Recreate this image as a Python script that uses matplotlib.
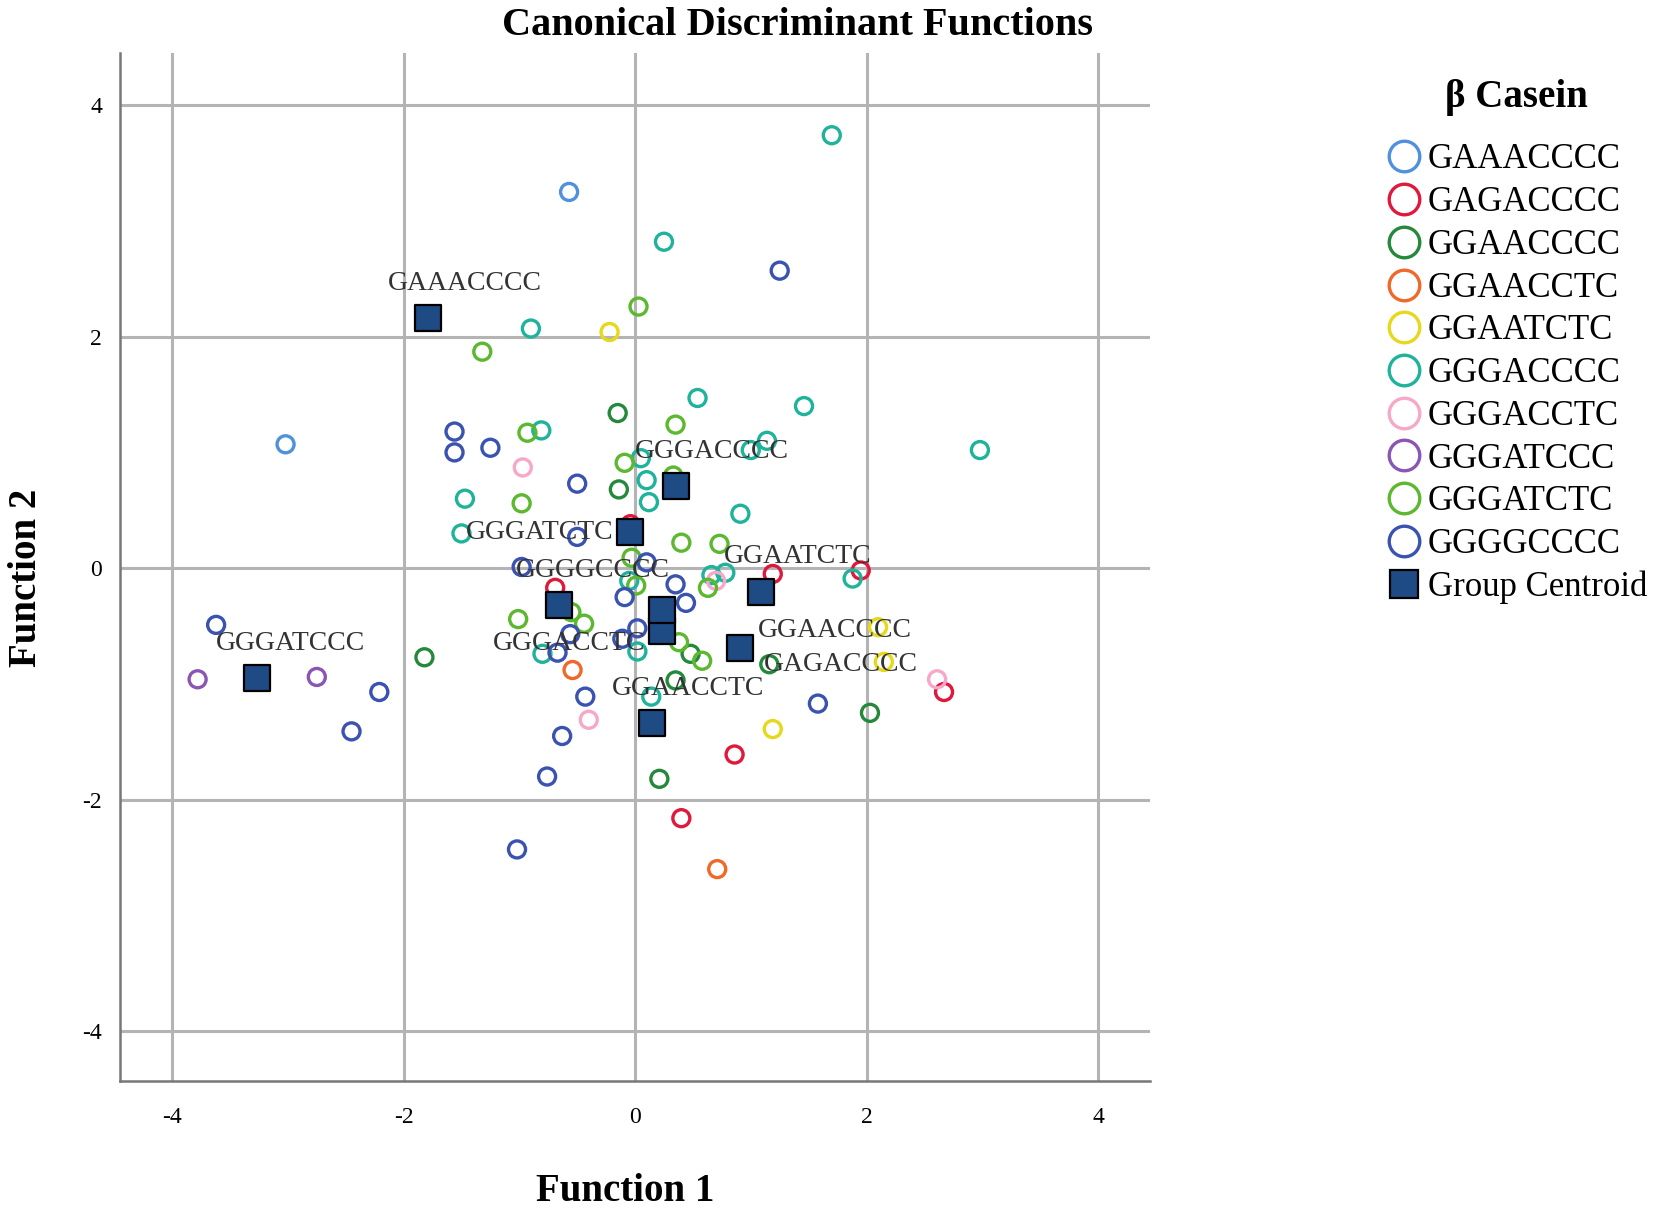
import matplotlib
matplotlib.use("Agg")
import matplotlib.pyplot as plt
from matplotlib.lines import Line2D

plt.rcParams['font.family'] = ['Liberation Serif', 'DejaVu Serif']
plt.rcParams['axes.unicode_minus'] = False

# group names (legend order)
groups = ['GAAACCCC', 'GAGACCCC', 'GGAACCCC', 'GGAACCTC', 'GGAATCTC',
          'GGGACCCC', 'GGGACCTC', 'GGGATCCC', 'GGGATCTC', 'GGGGCCCC']

# discriminant scores per group (Function 1, Function 2)
f1_GAAACCCC = [-0.57, -3.02]
f2_GAAACCCC = [3.25, 1.07]
f1_GAGACCCC = [1.19, 1.95, 2.67, 0.86, 0.40, -0.69, -0.04]
f2_GAGACCCC = [-0.05, -0.02, -1.07, -1.61, -2.16, -0.17, 0.38]
f1_GGAACCCC = [-0.15, -0.14, -1.82, 1.16, 2.03, 0.21, 0.35, 0.48]
f2_GGAACCCC = [1.34, 0.68, -0.77, -0.83, -1.25, -1.82, -0.97, -0.74]
f1_GGAACCTC = [-0.54, 0.71]
f2_GGAACCTC = [-0.88, -2.60]
f1_GGAATCTC = [-0.22, 2.10, 2.15, 1.19]
f2_GGAATCTC = [2.04, -0.51, -0.81, -1.39]
f1_GGGACCCC = [1.70, 0.25, -0.90, 0.54, 1.46, 1.14, 1.00, 2.98, -0.81, 0.05, 0.10,
               0.12, 0.91, -1.47, -1.50, 0.78, 0.66, 1.88, -0.80, 0.02, 0.14, -0.05]
f2_GGGACCCC = [3.74, 2.82, 2.07, 1.47, 1.40, 1.10, 1.02, 1.02, 1.19, 0.95, 0.76,
               0.57, 0.47, 0.60, 0.30, -0.04, -0.06, -0.09, -0.74, -0.72, -1.11, -0.11]
f1_GGGACCTC = [-0.97, 0.70, -0.40, 2.61]
f2_GGGACCTC = [0.87, -0.11, -1.31, -0.96]
f1_GGGATCCC = [-3.78, -2.75]
f2_GGGATCCC = [-0.96, -0.94]
f1_GGGATCTC = [-1.32, 0.03, 0.35, -0.93, -0.09, 0.33, -0.98, 0.40, 0.73, -0.03,
               0.01, 0.63, -1.01, -0.55, -0.44, 0.38, 0.58]
f2_GGGATCTC = [1.87, 2.26, 1.24, 1.17, 0.91, 0.80, 0.56, 0.22, 0.21, 0.09,
               -0.15, -0.17, -0.44, -0.38, -0.48, -0.64, -0.80]
f1_GGGGCCCC = [1.25, -1.56, -1.56, -1.25, -0.50, -0.50, -0.98, 0.10, -0.09, 0.35, 0.44,
               0.02, -0.11, -0.56, -0.67, -0.43, -0.63, -0.76, -1.02, -2.45, -2.21,
               -3.62, 1.58]
f2_GGGGCCCC = [2.57, 1.18, 1.00, 1.04, 0.73, 0.27, 0.01, 0.05, -0.25, -0.14, -0.30,
               -0.52, -0.61, -0.57, -0.73, -1.11, -1.45, -1.80, -2.43, -1.41, -1.07,
               -0.49, -1.17]

# group centroids
centroid_f1 = [-1.79, 0.91, 0.23, 0.15, 1.09, 0.35, 0.23, -3.27, -0.04, -0.66]
centroid_f2 = [2.16, -0.69, -0.54, -1.34, -0.21, 0.71, -0.36, -0.95, 0.31, -0.32]

colors = ['#4f91dc', '#e0183c', '#24893a', '#f0682a', '#e6d81a',
          '#1fb39c', '#f7a8c8', '#8a55b5', '#5cb82e', '#3a52b0']
centroid_color = '#1f4b85'

# label offsets in points (left edge / right edge of text, vertical centre)
label_pos = {
    'GAAACCCC': (-29, 25, 'left'),
    'GAGACCCC': (17, -12, 'left'),
    'GGAACCCC': (69, 0, 'left'),
    'GGAACCTC': (-29, 25, 'left'),
    'GGAATCTC': (-27, 26, 'left'),
    'GGGACCCC': (-29, 25, 'left'),
    'GGGACCTC': (-12, -24, 'right'),
    'GGGATCCC': (-29, 25, 'left'),
    'GGGATCTC': (-12, 0, 'right'),
    'GGGGCCCC': (-31, 25, 'left'),
}

f1_all = [f1_GAAACCCC, f1_GAGACCCC, f1_GGAACCCC, f1_GGAACCTC, f1_GGAATCTC,
          f1_GGGACCCC, f1_GGGACCTC, f1_GGGATCCC, f1_GGGATCTC, f1_GGGGCCCC]
f2_all = [f2_GAAACCCC, f2_GAGACCCC, f2_GGAACCCC, f2_GGAACCTC, f2_GGAATCTC,
          f2_GGGACCCC, f2_GGGACCTC, f2_GGGATCCC, f2_GGGATCTC, f2_GGGGCCCC]


def main() -> None:
    fig = plt.figure(figsize=(16.54, 12.11), dpi=100)
    ax = fig.add_axes([0.0726, 0.1074, 0.6227, 0.8488])

    for xs, ys, c in zip(f1_all, f2_all, colors):
        ax.scatter(xs, ys, s=150, facecolors='none', edgecolors=c,
                   linewidths=2.4, zorder=3)

    ax.scatter(centroid_f1, centroid_f2, s=340, marker='s', c=centroid_color,
               edgecolors='black', linewidths=1.6, zorder=4)

    for g, cx, cy in zip(groups, centroid_f1, centroid_f2):
        dx, dy, ha = label_pos[g]
        ax.annotate(g, (cx, cy), xytext=(dx, dy), textcoords='offset points',
                    ha=ha, va='center', fontsize=20, color='#333333', zorder=5)

    ax.set_xlim(-4.45, 4.45)
    ax.set_ylim(-4.43, 4.45)
    ax.set_xticks([-4, -2, 0, 2, 4])
    ax.set_yticks([-4, -2, 0, 2, 4])
    ax.grid(True, color='#b4b4b4', linewidth=2.2)
    ax.set_axisbelow(True)
    ax.tick_params(length=0, labelsize=17)
    ax.tick_params(axis='x', pad=19)
    ax.tick_params(axis='y', pad=13)
    for side in ['top', 'right']:
        ax.spines[side].set_visible(False)
    for side in ['left', 'bottom']:
        ax.spines[side].set_color('#777777')
        ax.spines[side].set_linewidth(1.8)

    fig.text(0.482, 0.979, 'Canonical Discriminant Functions', ha='center',
             va='center', fontsize=29, fontweight='bold')
    fig.text(0.378, 0.016, 'Function 1', ha='center', va='center',
             fontsize=28, fontweight='bold')
    fig.text(0.016, 0.523, 'Function 2', ha='center', va='center',
             fontsize=28, fontweight='bold', rotation=90)

    handles = [Line2D([], [], ls='none', marker='o', ms=22, mfc='none',
                      mec=c, mew=2.4) for c in colors]
    handles.append(Line2D([], [], ls='none', marker='s', ms=20,
                          mfc=centroid_color, mec='black', mew=1.6))
    leg = fig.legend(handles, groups + ['Group Centroid'], loc='upper left',
                     bbox_to_anchor=(0.838, 0.935), frameon=False,
                     fontsize=25, title='β Casein',
                     title_fontproperties={'size': 28, 'weight': 'bold'},
                     handlelength=1.06, handletextpad=0.15, labelspacing=0.28,
                     borderpad=0, borderaxespad=0)
    leg._legend_box.sep = 20

    fig.savefig('out.png', dpi=100)


if __name__ == "__main__":
    main()
